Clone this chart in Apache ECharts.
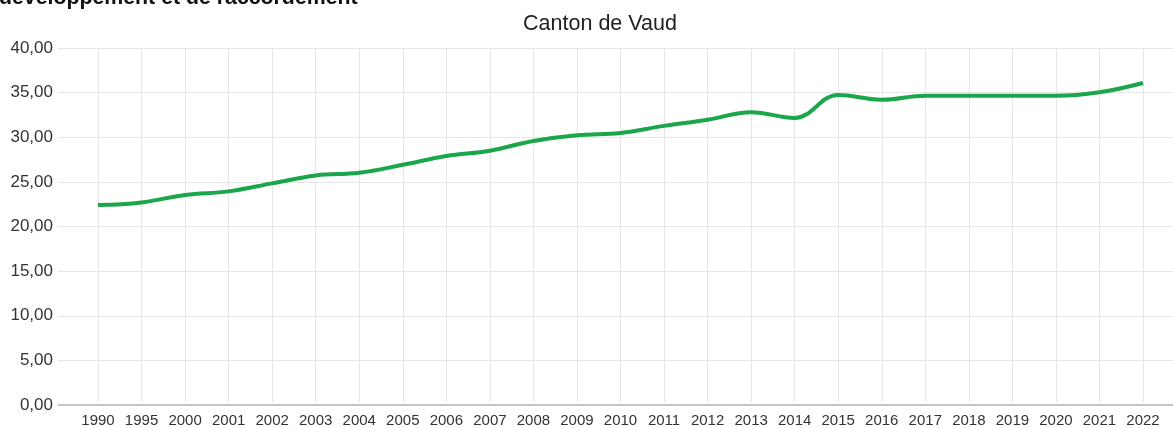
<!DOCTYPE html>
<html>
<head>
<meta charset="utf-8">
<script src="https://cdn.jsdelivr.net/npm/echarts@6/dist/echarts.min.js"></script>
<style>
  html, body { margin: 0; padding: 0; background: #fff; }
  #chart { width: 1173px; height: 428px; }
</style>
</head>
<body>
<div id="chart"></div>
<script>
// années (catégories)
const years = ['1990', '1995', '2000', '2001', '2002', '2003', '2004', '2005', '2006', '2007',
  '2008', '2009', '2010', '2011', '2012', '2013', '2014', '2015', '2016', '2017',
  '2018', '2019', '2020', '2021', '2022']
// valeurs
const values = [22.25, 22.55, 23.4, 23.8, 24.7, 25.6, 25.9, 26.8, 27.8, 28.4,
  29.5, 30.15, 30.4, 31.2, 31.9, 32.75, 32.1, 34.7, 34.15, 34.6,
  34.6, 34.6, 34.6, 35.0, 36.05]
const yMin = 0
const yMax = 40
const yStep = 5

const chart = echarts.init(document.getElementById('chart'))

const fmt = v => v.toFixed(2).replace('.', ',')

const option = {
  animation: false,
  textStyle: { fontFamily: 'Liberation Sans, Arial, sans-serif' },
  title: {
    text: 'Canton de Vaud',
    left: 595,
    textAlign: 'center',
    top: 8,
    textStyle: { fontSize: 21.5, fontWeight: 'normal', color: '#222' }
  },
  graphic: [{
    type: 'text',
    left: -1,
    top: -12,
    style: {
      text: 'développement et de raccordement',
      font: 'bold 21.3px "Liberation Sans", Arial, sans-serif',
      fill: '#111'
    }
  }],
  grid: [
    // grille de fond (lignes horizontales + étiquettes Y)
    { left: 58, right: 0, top: 48, bottom: 23 },
    // zone des données
    { left: 98, right: 30, top: 48, bottom: 23 }
  ],
  xAxis: [
    {
      gridIndex: 0, type: 'value', min: 0, max: 1, show: false
    },
    {
      gridIndex: 1,
      type: 'category',
      data: years,
      boundaryGap: false,
      axisLine: { show: false },
      axisTick: { show: false },
      axisLabel: { color: '#333', fontSize: 15, margin: 11, interval: 0 },
      splitLine: { show: true, lineStyle: { color: '#e6e6e6', width: 1 } }
    }
  ],
  yAxis: [
    {
      gridIndex: 0,
      type: 'value',
      min: yMin,
      max: yMax,
      interval: yStep,
      axisLine: { show: false },
      axisTick: { show: false },
      axisLabel: { color: '#333', fontSize: 17, margin: 5, formatter: fmt },
      splitLine: { lineStyle: { color: '#e6e6e6', width: 1 } }
    },
    {
      gridIndex: 1,
      type: 'value',
      min: yMin,
      max: yMax,
      interval: yStep,
      show: false,
      splitLine: { show: false }
    }
  ],
  series: [
    {
      // ligne de base de l'axe X
      type: 'line',
      xAxisIndex: 0,
      yAxisIndex: 0,
      data: [[0, 0], [1, 0]],
      symbol: 'none',
      silent: true,
      lineStyle: { color: '#c4c4c4', width: 2 }
    },
    {
      name: 'Canton de Vaud',
      type: 'line',
      xAxisIndex: 1,
      yAxisIndex: 1,
      data: values,
      smooth: 0.4,
      symbol: 'none',
      lineStyle: { color: '#1ba64b', width: 4 }
    }
  ]
}

chart.setOption(option)
</script>
</body>
</html>
